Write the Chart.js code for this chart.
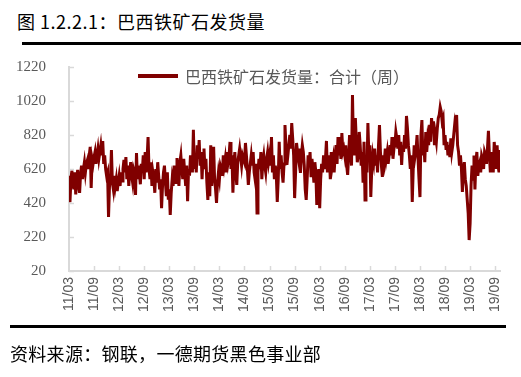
<!DOCTYPE html>
<html>
<head>
<meta charset="utf-8">
<script src="https://cdn.jsdelivr.net/npm/chart.js@4"></script>
<style>
  html, body { margin: 0; padding: 0; background: #ffffff; }
  #wrap { position: relative; width: 521px; height: 377px; overflow: hidden; }
  #chart { position: absolute; left: 0; top: 0; }
  .title { position: absolute; left: 17px; top: 8px; font: 18px "Noto Sans CJK SC", sans-serif; color: #000; letter-spacing: 0.5px; white-space: nowrap; }
  .rule-top { position: absolute; left: 22px; top: 42px; width: 499px; height: 3px; background: #000; }
  .rule-bottom { position: absolute; left: 10px; top: 325px; width: 496px; height: 3px; background: #000; }
  .source { position: absolute; left: 10px; top: 340px; font: 18px "Noto Sans CJK SC", sans-serif; color: #000; letter-spacing: 0.3px; white-space: nowrap; }
  .legend { position: absolute; left: 138px; top: 64px; height: 24px; display: flex; align-items: center; font: 16px "Noto Sans CJK SC", sans-serif; color: #595959; white-space: nowrap; }
  .legend .swatch { display: inline-block; width: 40px; height: 4px; background: #800000; margin-right: 7px; }
</style>
</head>
<body>
<div id="wrap">
  <div class="title">图 1.2.2.1：巴西铁矿石发货量</div>
  <div class="rule-top"></div>
  <canvas id="chart" width="521" height="377"></canvas>
  <div class="legend"><span class="swatch"></span><span id="legendText"></span></div>
  <div class="rule-bottom"></div>
  <div class="source">资料来源：钢联，一德期货黑色事业部</div>
</div>
<script>
// 巴西铁矿石发货量（周），2011/03 - 2019/10，单位：万吨

const seriesName = '巴西铁矿石发货量：合计（周）';

const tickLabels = ['11/03', '11/09', '12/03', '12/09', '13/03', '13/09', '14/03', '14/09', '15/03',
    '15/09', '16/03', '16/09', '17/03', '17/09', '18/03', '18/09', '19/03', '19/09'];

// weeks between two tick labels (half a year)
const weeksPerTick = 26;

const yTicks = [20, 220, 420, 620, 820, 1020, 1220];

// weekly values
const shipments = [
    580, 425, 560, 610, 540, 500, 600, 470, 560, 615, 520, 480, 590, 640, 560, 620, 660, 600, 650, 670, 620, 700, 750, 508, 680, 650,
    690, 720, 650, 700, 740, 680, 720, 760, 700, 785, 650, 700, 620, 580, 600, 338, 520, 560, 732, 540, 500, 580, 520, 560, 490, 540,
    580, 520, 600, 550, 620, 673, 600, 690, 560, 640, 520, 600, 660, 580, 540, 620, 600, 467, 714, 560, 640, 590, 530, 650, 600, 700,
    560, 720, 600, 680, 808, 620, 560, 660, 520, 600, 560, 480, 620, 540, 660, 580, 500, 560, 390, 520, 600, 640, 540, 460, 600, 440,
    500, 350, 480, 560, 520, 640, 580, 540, 684, 600, 520, 660, 700, 620, 560, 680, 600, 520, 640, 430, 620, 580, 700, 640, 600, 850,
    620, 700, 600, 760, 680, 790, 640, 720, 560, 700, 740, 620, 680, 540, 438, 600, 460, 760, 520, 640, 750, 560, 500, 420, 540, 600,
    560, 640, 620, 580, 700, 640, 680, 600, 720, 660, 700, 779, 620, 700, 480, 640, 720, 600, 526, 660, 700, 740, 690, 640, 700, 680,
    660, 773, 700, 620, 526, 600, 650, 700, 640, 720, 600, 560, 650, 361, 600, 680, 620, 720, 560, 660, 700, 640, 600, 680, 720, 660,
    700, 640, 808, 600, 700, 560, 640, 580, 426, 560, 780, 620, 700, 600, 540, 650, 879, 760, 644, 700, 760, 820, 740, 890, 800, 700,
    449, 600, 773, 720, 680, 740, 597, 700, 760, 720, 640, 500, 438, 560, 700, 640, 720, 580, 680, 620, 540, 660, 600, 408, 520, 620,
    390, 560, 650, 600, 700, 620, 680, 785, 600, 660, 700, 560, 720, 640, 680, 600, 700, 760, 650, 808, 700, 760, 680, 832, 720, 740,
    700, 760, 640, 585, 700, 820, 760, 640, 1055, 760, 700, 920, 780, 660, 700, 838, 760, 640, 720, 540, 780, 438, 700, 600, 890, 700,
    760, 455, 620, 700, 660, 740, 640, 700, 600, 760, 879, 720, 640, 573, 700, 660, 740, 680, 720, 650, 700, 760, 700, 808, 680, 740,
    760, 838, 800, 740, 820, 700, 780, 644, 760, 720, 820, 740, 932, 860, 760, 700, 620, 700, 426, 620, 760, 700, 740, 820, 680, 560,
    455, 820, 908, 700, 780, 660, 838, 720, 800, 760, 880, 780, 920, 840, 900, 760, 820, 780, 860, 920, 940, 985, 960, 900, 920, 760,
    820, 740, 780, 700, 760, 690, 800, 720, 760, 820, 880, 840, 938, 760, 720, 640, 700, 620, 485, 620, 660, 560, 520, 440, 360, 202,
    300, 526, 640, 560, 700, 500, 660, 720, 580, 640, 660, 600, 700, 680, 620, 720, 700, 650, 740, 844, 700, 600, 640, 720, 600, 779,
    700, 620, 760, 640, 600, 732
];

document.getElementById('legendText').textContent = seriesName;

const axisGray = '#d9d9d9';
const labelGray = '#595959';

// Excel style tick marks that point into the plot
const innerTicks = {
    id: 'innerTicks',
    afterDatasetsDraw(chart) {
        const ctx = chart.ctx;
        const area = chart.chartArea;
        const xs = chart.scales.x;
        const ys = chart.scales.y;
        ctx.save();
        ctx.strokeStyle = axisGray;
        ctx.lineWidth = 1.5;
        ctx.beginPath();
        ys.ticks.forEach(t => {
            const py = Math.round(ys.getPixelForValue(t.value)) + 0.5;
            ctx.moveTo(area.left, py);
            ctx.lineTo(area.left + 5, py);
        });
        xs.ticks.forEach(t => {
            if (t.value === 0) return;
            const px = Math.round(xs.getPixelForValue(t.value)) + 0.5;
            ctx.moveTo(px, area.bottom);
            ctx.lineTo(px, area.bottom - 5);
        });
        ctx.stroke();
        ctx.restore();
    }
};

new Chart(document.getElementById('chart'), {
    type: 'line',
    data: {
        datasets: [{
            label: seriesName,
            data: shipments.map((v, i) => ({ x: i, y: v })),
            borderColor: '#800000',
            backgroundColor: '#800000',
            borderWidth: 3,
            pointRadius: 0,
            tension: 0,
            fill: false
        }]
    },
    options: {
        responsive: false,
        animation: false,
        layout: {
            padding: { left: 0, right: 21, top: 67, bottom: 56 }
        },
        plugins: {
            legend: { display: false },
            tooltip: { enabled: false }
        },
        scales: {
            x: {
                type: 'linear',
                min: 0,
                max: shipments.length - 1,
                afterBuildTicks: scale => {
                    scale.ticks = tickLabels.map((_, k) => ({ value: k * weeksPerTick }));
                },
                afterFit: scale => { scale.height = 50; },
                grid: { drawOnChartArea: false, drawTicks: false },
                border: { color: axisGray, width: 2 },
                ticks: {
                    autoSkip: false,
                    minRotation: 90,
                    maxRotation: 90,
                    padding: 6,
                    color: labelGray,
                    font: { family: '"Liberation Sans", Arial, sans-serif', size: 14 },
                    callback: value => tickLabels[Math.round(value / weeksPerTick)]
                }
            },
            y: {
                min: 20,
                max: 1220,
                afterBuildTicks: scale => {
                    scale.ticks = yTicks.map(v => ({ value: v }));
                },
                afterFit: scale => { scale.width = 69; },
                grid: { drawOnChartArea: false, drawTicks: false },
                border: { color: axisGray, width: 2 },
                ticks: {
                    padding: 23,
                    color: labelGray,
                    font: { family: '"Liberation Serif", "Times New Roman", serif', size: 15 },
                    callback: value => String(value)
                }
            }
        }
    },
    plugins: [innerTicks]
});
</script>
</body>
</html>
